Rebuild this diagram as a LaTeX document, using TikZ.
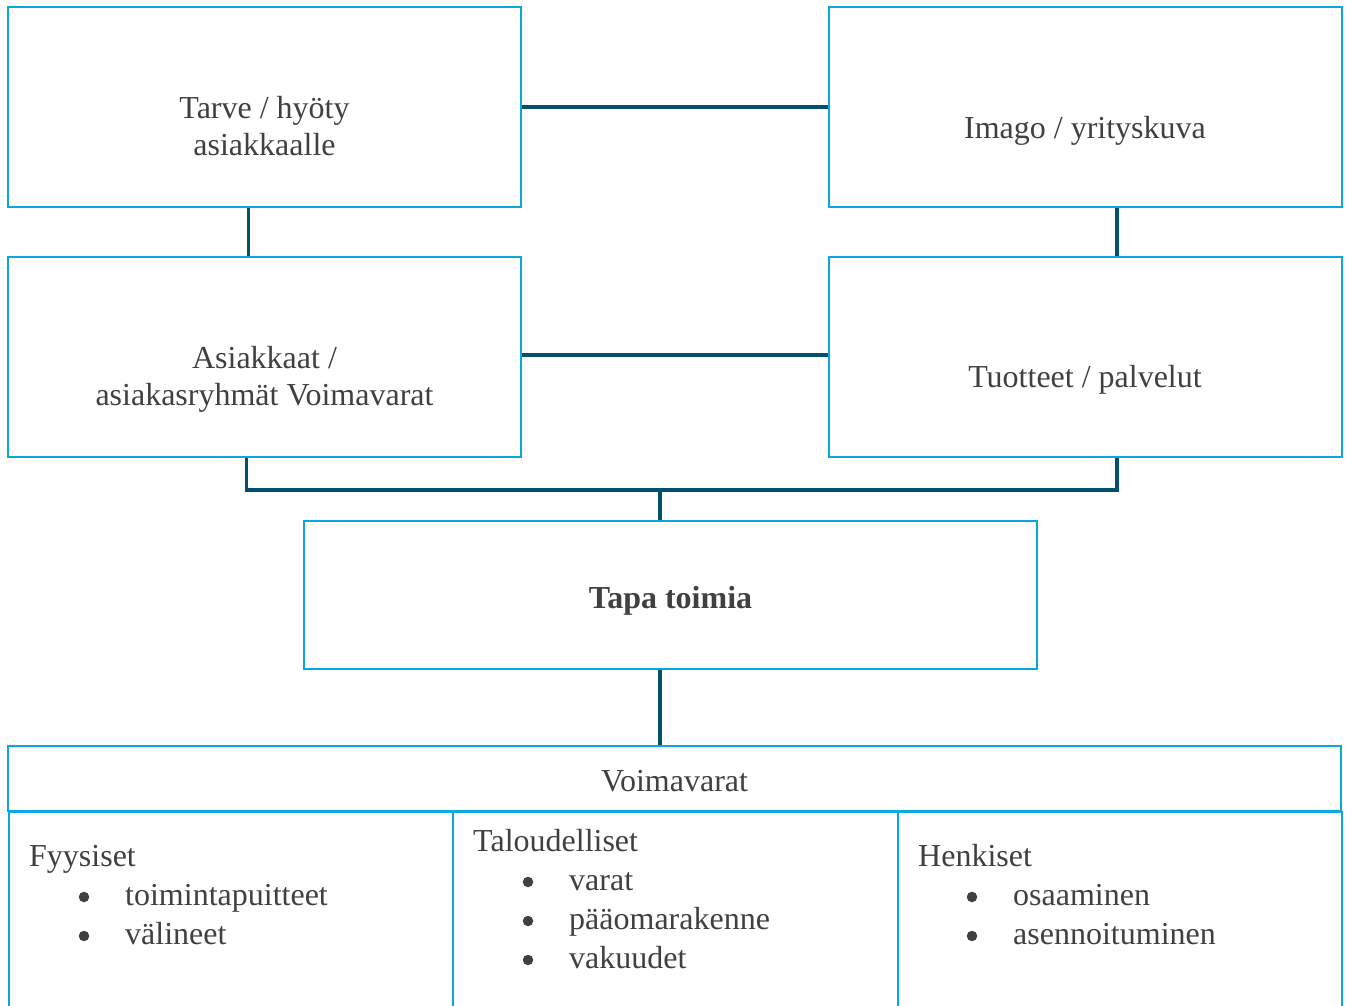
\documentclass[tikz,border=0pt]{standalone}
\usepackage{fontspec}
\setmainfont{Liberation Serif}
\definecolor{boxblue}{HTML}{0AA8E0}
\definecolor{linkteal}{HTML}{00506E}
\definecolor{txtgray}{HTML}{404040}

\begin{document}
\begin{tikzpicture}[x=1pt,y=-1pt,
  box/.style={draw=boxblue, line width=2pt, inner sep=0pt,
    minimum width=513pt, minimum height=200pt},
  cell/.style={draw=boxblue, line width=2pt, inner sep=0pt},
  link/.style={draw=linkteal, line width=3.8pt},
  lbl/.style={text=txtgray, font=\fontsize{32}{37}\selectfont,
    anchor=base, inner sep=0pt, align=center},
  item/.style={lbl, anchor=base west, align=left},
  dot/.style={circle, fill=txtgray, inner sep=0pt, minimum size=10.5pt}
]
\useasboundingbox (0,0) rectangle (1349,1006);

% upper boxes
\node[box] (b1) at (264.5,107) {};
\node[box] (b2) at (1085,107) {};
\node[box] (b3) at (264.5,357) {};
\node[box] (b4) at (1085,357) {};
\node[box, minimum width=733pt, minimum height=148pt] (tapa) at (670.5,595) {};

% box texts (base anchor sits on the last line)
\node[lbl] (t1) at (264.5,156) {Tarve / hyöty\\asiakkaalle};
\node[lbl] (t2) at (1085,139) {Imago / yrityskuva};
\node[lbl] (t3) at (264.5,405) {Asiakkaat /\\asiakasryhmät Voimavarat};
\node[lbl] (t4) at (1085,387) {Tuotteet / palvelut};
\node[lbl, font=\fontsize{32}{37}\selectfont\bfseries] (t5) at (670.5,608) {Tapa toimia};

% resources table
\node[cell, minimum width=1333pt, minimum height=65pt] (hd) at (674.5,778.5) {};
\node[cell, minimum width=444pt, minimum height=220pt, anchor=north west] (c1) at (8,811) {};
\node[cell, minimum width=445pt, minimum height=220pt, anchor=north west] (c2) at (452,811) {};
\node[cell, minimum width=444pt, minimum height=220pt, anchor=north west] (c3) at (897,811) {};

\node[lbl] (hdt) at (674.5,791) {Voimavarat};

\node[item] (f0) at (29,866) {Fyysiset};
\node[dot] (f1d) at (84,897) {};
\node[item] (f1) at (125,905) {toimintapuitteet};
\node[dot] (f2d) at (84,936) {};
\node[item] (f2) at (125,944) {välineet};

\node[item] (k0) at (473,851) {Taloudelliset};
\node[dot] (k1d) at (528,882) {};
\node[item] (k1) at (569,890) {varat};
\node[dot] (k2d) at (528,921) {};
\node[item] (k2) at (569,929) {pääomarakenne};
\node[dot] (k3d) at (528,960) {};
\node[item] (k3) at (569,968) {vakuudet};

\node[item] (h0) at (918,866) {Henkiset};
\node[dot] (h1d) at (972,897) {};
\node[item] (h1) at (1013,905) {osaaminen};
\node[dot] (h2d) at (972,936) {};
\node[item] (h2) at (1013,944) {asennoituminen};

% connectors
\draw[link] (b1.east) -- (b2.west);
\draw[link] ([yshift=2pt]b3.east) -- ([yshift=2pt]b4.west);
\draw[link] ([xshift=-16pt]b1.south) -- ([xshift=-16pt]b3.north);
\draw[link] ([xshift=32pt]b2.south) -- ([xshift=32pt]b4.north);
\draw[link] ([xshift=-18pt]b3.south) -- ++(0,32) coordinate (j0) -| ([xshift=32pt]b4.south);
\coordinate (j) at (660,489);
\draw[link] (j) -- (j |- tapa.north);
\draw[link] ([xshift=-10.5pt]tapa.south) -- ([xshift=-10.5pt]tapa.south |- hd.north);
\end{tikzpicture}
\end{document}
